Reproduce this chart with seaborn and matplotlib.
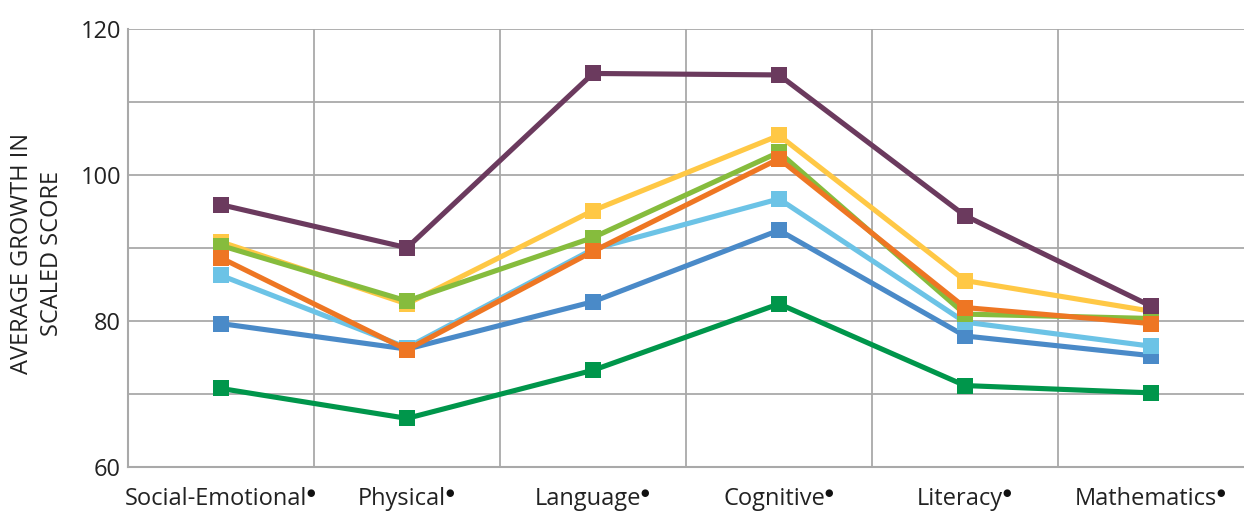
import matplotlib
matplotlib.use("Agg")
import matplotlib.pyplot as plt
import matplotlib.transforms as mtransforms
import seaborn as sns
import pandas as pd
from matplotlib.ticker import MultipleLocator, FixedLocator

categories = ["Social-Emotional", "Physical", "Language", "Cognitive", "Literacy", "Mathematics"]

# Average growth in scaled score for each group, per domain
group_1 = [70.7, 66.6, 73.2, 82.3, 71.1, 70.1]
group_2 = [79.6, 76.1, 82.6, 92.4, 77.9, 75.2]
group_3 = [86.2, 76.3, 89.8, 96.7, 79.8, 76.5]
group_4 = [90.8, 82.3, 95.1, 105.4, 85.5, 81.3]
group_5 = [90.3, 82.7, 91.4, 103.1, 80.9, 80.3]
group_6 = [88.6, 76.0, 89.5, 102.2, 81.8, 79.6]
group_7 = [95.9, 90.0, 113.9, 113.7, 94.4, 82.0]

groups = ["G1", "G2", "G3", "G4", "G5", "G6", "G7"]
series = [group_1, group_2, group_3, group_4, group_5, group_6, group_7]
colors = ["#00964B", "#4A8AC8", "#6CC3E6", "#FFC845", "#86BC3D", "#EE7623", "#6B3A5E"]

rows = []
for g, vals in zip(groups, series):
    for i, v in enumerate(vals):
        rows.append({"group": g, "pos": i, "score": v})
df = pd.DataFrame(rows)

sns.set_theme(style="white")
plt.rcParams["font.family"] = ["Open Sans", "DejaVu Sans"]

fig = plt.figure(figsize=(12.44, 5.14), dpi=100)
ax = fig.add_axes([0.1029, 0.0924, 0.8971, 0.8512])

sns.lineplot(
    data=df, x="pos", y="score", hue="group", hue_order=groups,
    palette=colors, style="group", markers=["s"] * len(groups), dashes=False,
    linewidth=3.7, markersize=11.5, markeredgewidth=0, legend=False, ax=ax,
)

ax.set_xlim(-0.5, len(categories) - 0.5)
ax.set_ylim(60, 120)

ax.yaxis.set_major_locator(MultipleLocator(20))
ax.yaxis.set_minor_locator(MultipleLocator(10))
ax.xaxis.set_major_locator(FixedLocator(range(len(categories))))
ax.xaxis.set_minor_locator(FixedLocator([i + 0.5 for i in range(len(categories) - 1)]))
ax.set_xticklabels(categories)

ax.grid(False)
ax.grid(which="both", axis="y", color="#A9A9A9", linewidth=1.3, zorder=0)
ax.grid(which="minor", axis="x", color="#A9A9A9", linewidth=1.3, zorder=0)
ax.set_axisbelow(True)

for side in ["top", "right"]:
    ax.spines[side].set_visible(False)
for side in ["left", "bottom"]:
    ax.spines[side].set_color("#A9A9A9")
    ax.spines[side].set_linewidth(1.5)

ax.tick_params(axis="both", which="both", length=0)
ax.tick_params(axis="y", labelsize=17, pad=5, colors="#222222")
ax.tick_params(axis="x", labelsize=17, pad=15, colors="#222222")

# nudge each domain name left so name + bullet sit centred under the point
shift = mtransforms.ScaledTranslation(-5 / 100, 0, fig.dpi_scale_trans)
for lab in ax.get_xticklabels():
    lab.set_transform(lab.get_transform() + shift)
    # superscript bullet after each domain name
    ax.annotate("\u25CF", xy=(1, 1), xycoords=lab, xytext=(-0.5, -0.5),
                textcoords="offset points", ha="left", va="top",
                fontsize=7, color="#111111", family="DejaVu Sans")

ax.set_xlabel("")
ax.set_ylabel("")
fig.text(37 / 1244, 1 - 254 / 514, "AVERAGE GROWTH IN\nSCALED SCORE", rotation=90,
         ha="center", va="center", fontsize=17, color="#222222", linespacing=1.35)

fig.savefig("out.png", dpi=100)
